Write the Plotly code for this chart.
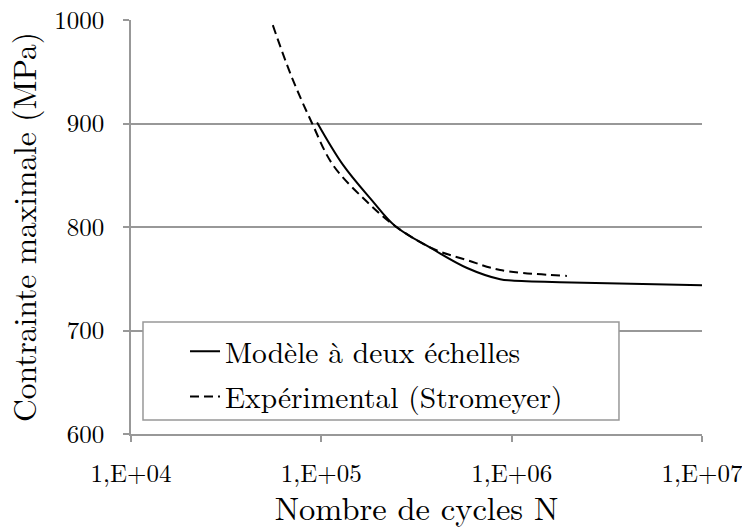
import plotly.graph_objects as go

# Cycles to failure (N) and maximum stress (MPa)
model_N = [9.5e4, 1.3e5, 1.84e5, 2.44e5, 3.86e5, 5.83e5, 8.7e5, 1.0e6, 1.79e6, 1.0e7]
model_S = [901, 860, 826, 801, 778.5, 760.4, 749.5, 748.3, 746.6, 743.7]

exp_N = [5.56e4, 6.98e4, 8.9e4, 1.15e5, 1.70e5, 2.44e5, 3.86e5, 5.83e5, 8.7e5, 1.95e6]
exp_S = [995, 945.2, 901, 860, 826, 801, 779, 768, 758.5, 752.7]

x_tickvals = [1e4, 1e5, 1e6, 1e7]
x_ticktext = ["1,E+04", "1,E+05", "1,E+06", "1,E+07"]
y_tickvals = [600, 700, 800, 900, 1000]

FONT = "Latin Modern Roman"
GRID = "#989898"

fig = go.Figure()
fig.add_trace(go.Scatter(
    x=model_N, y=model_S, mode="lines", name="Modèle à deux échelles",
    legendgroup="a",
    line=dict(color="black", width=2, shape="spline", smoothing=1.0),
))
fig.add_trace(go.Scatter(
    x=exp_N, y=exp_S, mode="lines", name="Expérimental (Stromeyer)",
    legendgroup="b",
    line=dict(color="black", width=2, dash="9px,5px", shape="spline", smoothing=1.0),
))

# framed legend box
fig.add_shape(type="rect", xref="paper", yref="paper",
              x0=0.021, x1=0.8546, y0=0.0338, y1=0.2705,
              line=dict(color=GRID, width=1.5), fillcolor="white", layer="above")

fig.update_layout(
    width=742, height=529,
    margin=dict(l=131, r=40, t=20, b=95, autoexpand=False),
    paper_bgcolor="white", plot_bgcolor="white",
    font=dict(family=FONT, color="black", size=25),
    showlegend=True,
    legend=dict(x=0.0946, y=0.262, xanchor="left", yanchor="top",
                bgcolor="rgba(0,0,0,0)", borderwidth=0, tracegroupgap=4,
                font=dict(family=FONT, size=29.5, color="black")),
    xaxis=dict(
        type="log", range=[4, 7], tickvals=x_tickvals, ticktext=x_ticktext,
        showgrid=False, zeroline=False, automargin=False,
        showline=True, linecolor=GRID, linewidth=1.5,
        ticks="outside", ticklen=6, tickcolor=GRID, tickwidth=1.5,
        tickfont=dict(family=FONT, size=25, color="black"), ticklabelstandoff=10,
        ticklabeloverflow="allow", tickangle=0,
        title=dict(text="Nombre de cycles N", font=dict(family=FONT, size=32.5, color="black"), standoff=18),
    ),
    yaxis=dict(
        range=[600, 1000], tickvals=y_tickvals, automargin=False,
        showgrid=True, gridcolor=GRID, gridwidth=1.5, zeroline=False,
        showline=True, linecolor=GRID, linewidth=1.5,
        ticks="outside", ticklen=6, tickcolor=GRID, tickwidth=1.5,
        tickfont=dict(family=FONT, size=25, color="black"), ticklabelstandoff=14,
        ticklabeloverflow="allow",
        title=dict(text="Contrainte maximale (MPa)", font=dict(family=FONT, size=31.5, color="black"), standoff=10),
    ),
)

fig.write_html("out.html")
